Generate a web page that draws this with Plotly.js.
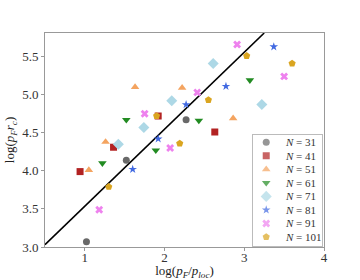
<!DOCTYPE html>
<html><head><meta charset="utf-8">
<script src="https://cdn.plot.ly/plotly-3.0.1.min.js"></script>
<style>html,body{margin:0;padding:0;background:#fff}#chart{width:360px;height:280px}</style>
</head><body><div id="chart"></div>
<script>
// Series labels
const seriesNames = ["N = 31","N = 41","N = 51","N = 61","N = 71","N = 81","N = 91","N = 101"];
// x = log(pF/ploc), y = log(pF rc)
const x31 = [1.02, 1.52, 2.27];
const y31 = [3.07, 4.14, 4.67];
const x41 = [0.94, 1.36, 1.92, 2.63];
const y41 = [3.99, 4.31, 4.72, 4.51];
const x51 = [1.05, 1.26, 1.63, 2.22, 2.86];
const y51 = [4.01, 4.38, 5.10, 5.09, 4.69];
const x61 = [1.22, 1.52, 1.89, 2.43, 3.07];
const y61 = [4.10, 4.67, 4.27, 4.66, 5.19];
const x71 = [1.42, 1.74, 2.09, 2.61, 3.22];
const y71 = [4.35, 4.57, 4.92, 5.41, 4.87];
const x81 = [1.60, 1.92, 2.27, 2.77, 3.37];
const y81 = [4.02, 4.42, 4.87, 5.11, 5.63];
const x91 = [1.18, 1.75, 2.07, 2.41, 2.91, 3.50];
const y91 = [3.49, 4.75, 4.30, 5.03, 5.66, 5.24];
const x101 = [1.30, 1.90, 2.19, 2.55, 3.03, 3.60];
const y101 = [3.79, 4.72, 4.36, 4.93, 5.51, 5.41];
// Fitted line endpoints
const fitX = [0.5, 3.25];
const fitY = [3.03, 5.81];

const xs = [x31,x41,x51,x61,x71,x81,x91,x101];
const ys = [y31,y41,y51,y61,y71,y81,y91,y101];
const symbols = ["circle","square","triangle-up","triangle-down","diamond","star","x","pentagon"];
const colors = ["#696969","#b22222","#f4a460","#228b22","#add8e6","#4169e1","#ee82ee","#daa520"];
const sizes = [7,7,7.5,7.5,8.5,6.5,7,7.5];

const labels = seriesNames.map(n => "<i>N</i>" + n.slice(1));
const rowIdx = seriesNames.map((n, i) => i);
const serif = "Liberation Serif, DejaVu Serif, serif";

const traces = [{
  x: fitX, y: fitY, mode: "lines", line: {color: "#000", width: 1.6},
  showlegend: false, hoverinfo: "skip", xaxis: "x", yaxis: "y"
}];
seriesNames.forEach((n, i) => {
  traces.push({
    x: xs[i], y: ys[i], mode: "markers", name: labels[i], showlegend: false,
    marker: {symbol: symbols[i], color: colors[i], size: sizes[i], line: {width: 0}},
    xaxis: "x", yaxis: "y"
  });
});
// legend box (inset axes): sample markers
traces.push({
  x: rowIdx.map(() => 0.19), y: rowIdx, mode: "markers", xaxis: "x2", yaxis: "y2",
  showlegend: false, hoverinfo: "skip",
  marker: {symbol: symbols, color: colors, size: sizes, line: {width: 0}}
});
// legend labels as annotations
const legendAnns = labels.map((t, i) => ({
  xref: "x2", yref: "y2", x: 0.44, y: rowIdx[i], text: t, showarrow: false,
  xanchor: "left", yanchor: "middle",
  font: {family: serif, size: 11, color: "#333"}
}));

const layout = {
  width: 360, height: 280,
  margin: {l: 45, r: 36, t: 33, b: 33},
  paper_bgcolor: "#fff", plot_bgcolor: "#fff",
  font: {family: serif, color: "#333", size: 12},
  showlegend: false,
  annotations: legendAnns,
  xaxis: {
    domain: [0, 1], anchor: "y",
    range: [0.5, 4], tickvals: [1,2,3,4], ticktext: ["1","2","3","4"],
    showgrid: false, zeroline: false, showline: true, mirror: true,
    linecolor: "#999", linewidth: 1, ticks: "outside", ticklen: 3, tickcolor: "#999",
    ticklabelstandoff: -5,
    tickfont: {family: serif, size: 13, color: "#333"},
    title: {text: "log(<i>p</i><sub><i>F</i></sub>/<i>p</i><sub><i>loc</i></sub>)", font: {family: serif, size: 13, color: "#222"}, standoff: 8}
  },
  yaxis: {
    domain: [0, 1], anchor: "x",
    range: [3.0, 5.81], tickvals: [3.0,3.5,4.0,4.5,5.0,5.5], ticktext: ["3.0","3.5","4.0","4.5","5.0","5.5"],
    showgrid: false, zeroline: false, showline: true, mirror: true,
    linecolor: "#999", linewidth: 1, ticks: "outside", ticklen: 3, tickcolor: "#999",
    tickfont: {family: serif, size: 13, color: "#333"},
    title: {text: "log(<i>p</i><sub><i>F</i></sub><i>r</i><sub><i>c</i></sub>)", font: {family: serif, size: 13, color: "#222"}, standoff: 4}
  },
  xaxis2: {
    domain: [0.746, 0.993], anchor: "y2", range: [0, 1],
    showgrid: false, zeroline: false, showticklabels: false, ticks: "",
    showline: true, mirror: true, linecolor: "#bbb", linewidth: 1, fixedrange: true
  },
  yaxis2: {
    domain: [0.004, 0.523], anchor: "x2", range: [7.68, -0.535],
    showgrid: false, zeroline: false, showticklabels: false, ticks: "",
    showline: true, mirror: true, linecolor: "#bbb", linewidth: 1, fixedrange: true
  }
};
Plotly.newPlot("chart", traces, layout, {staticPlot: true, displayModeBar: false});
</script></body></html>
